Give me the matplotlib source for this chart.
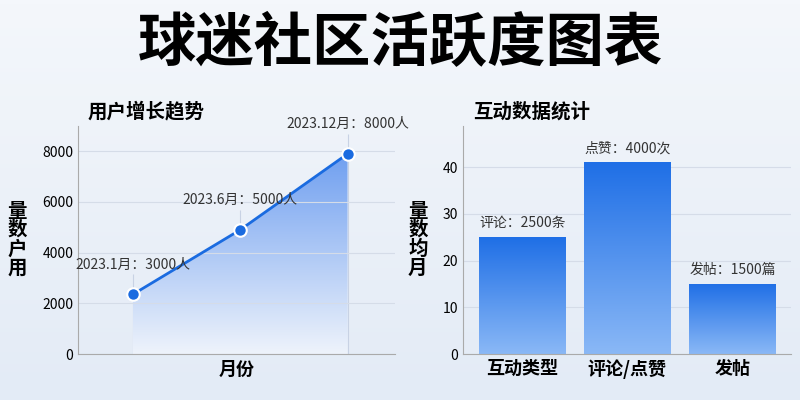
import numpy as np
import matplotlib.pyplot as plt
from matplotlib.colors import LinearSegmentedColormap

plt.rcParams['font.family'] = ['Noto Sans CJK SC', 'DejaVu Sans']

# data
months = ["2023.1月", "2023.6月", "2023.12月"]
users = [2350, 4900, 7900]
user_labels = ["2023.1月：3000人", "2023.6月：5000人", "2023.12月：8000人"]
kinds = ["互动类型", "评论/点赞", "发帖"]
counts = [25, 41, 15]
count_labels = ["评论：2500条", "点赞：4000次", "发帖：1500篇"]

fig = plt.figure(figsize=(8, 4), dpi=100)
bg = fig.add_axes([0, 0, 1, 1], zorder=-10)
bg.imshow(np.linspace(0, 1, 100).reshape(-1, 1), cmap=LinearSegmentedColormap.from_list("bg", ["#f4f7fb", "#e3ebf6"]),
          aspect="auto", extent=[0, 1, 0, 1])
bg.axis("off")

fig.text(0.5, 0.89, "球迷社区活跃度图表", ha="center", va="center", fontsize=42, fontweight="bold")

# left: line
ax1 = fig.add_axes([0.0975, 0.115, 0.396, 0.57])
ax1.set_facecolor("none")
x = np.arange(len(months))
fill = ax1.fill_between(x, users, 0, color="none", lw=0)
fcmap = LinearSegmentedColormap.from_list("fill", ["#eef3fb", "#6f9ff0"])
im = ax1.imshow(np.linspace(0, 1, 256).reshape(-1, 1), cmap=fcmap, aspect="auto", origin="lower",
                extent=[0, 2, 0, max(users)], zorder=1)
im.set_clip_path(fill.get_paths()[0], transform=ax1.transData)
ax1.plot(x, users, color="#1a6be0", lw=2, marker="o", ms=9, mfc="#1a6be0", mec="white", mew=1.5, zorder=3)
for xi, yi, t in zip(x, users, user_labels):
    ax1.vlines(xi, 0, yi + 800, color="#c8d2e4", lw=0.8, zorder=0)
    ax1.text(xi, yi + 900, t, ha="center", va="bottom", fontsize=10, color="#333")
ax1.set_xlim(-0.51, 2.44)
ax1.set_ylim(0, 9000)
ax1.set_yticks([0, 2000, 4000, 6000, 8000])
ax1.set_xticks([])
ax1.tick_params(labelsize=10, length=0)
ax1.grid(axis="y", color="#d5dce8", lw=0.8)
for s in ["top", "right"]:
    ax1.spines[s].set_visible(False)
for s in ["left", "bottom"]:
    ax1.spines[s].set_color("#aaa")
ax1.set_title("用户增长趋势", loc="left", fontsize=14, fontweight="bold", x=0.03)
ax1.set_xlabel("月份", fontsize=13, fontweight="bold")
ax1.set_ylabel("量\n数\n户\n用", rotation=0, fontsize=14, fontweight="bold", va="center", labelpad=18, linespacing=1.0)

# right: bars
ax2 = fig.add_axes([0.579, 0.115, 0.41, 0.57])
ax2.set_facecolor("none")
xb = np.arange(len(kinds))
bars = ax2.bar(xb, counts, width=0.82, color="none")
cmap = LinearSegmentedColormap.from_list("bar", ["#8ab8f6", "#1f6fe6"])
grad = np.linspace(0, 1, 256).reshape(-1, 1)
for b in bars:
    im = ax2.imshow(grad, cmap=cmap, aspect="auto", origin="lower",
                    extent=[b.get_x(), b.get_x() + b.get_width(), 0, b.get_height()], zorder=2)
    im.set_clip_path(b)
for xi, c, t in zip(xb, counts, count_labels):
    ax2.text(xi - 0.41, c + 1.5, t, ha="left", va="bottom", fontsize=10, color="#333")
ax2.set_xlim(-0.56, 2.56)
ax2.set_ylim(0, 48.8)
ax2.set_yticks([0, 10, 20, 30, 40])
ax2.set_xticks(xb)
ax2.set_xticklabels(kinds, fontsize=13, fontweight="bold")
ax2.tick_params(labelsize=10, length=0)
ax2.tick_params(axis="x", labelsize=13)
ax2.grid(axis="y", color="#d5dce8", lw=0.8)
ax2.set_axisbelow(True)
for s in ["top", "right"]:
    ax2.spines[s].set_visible(False)
for s in ["left", "bottom"]:
    ax2.spines[s].set_color("#aaa")
ax2.set_title("互动数据统计", loc="left", fontsize=14, fontweight="bold", x=0.03)
ax2.set_ylabel("量\n数\n均\n月", rotation=0, fontsize=14, fontweight="bold", va="center", labelpad=18, linespacing=1.0)

fig.savefig("out.png")
